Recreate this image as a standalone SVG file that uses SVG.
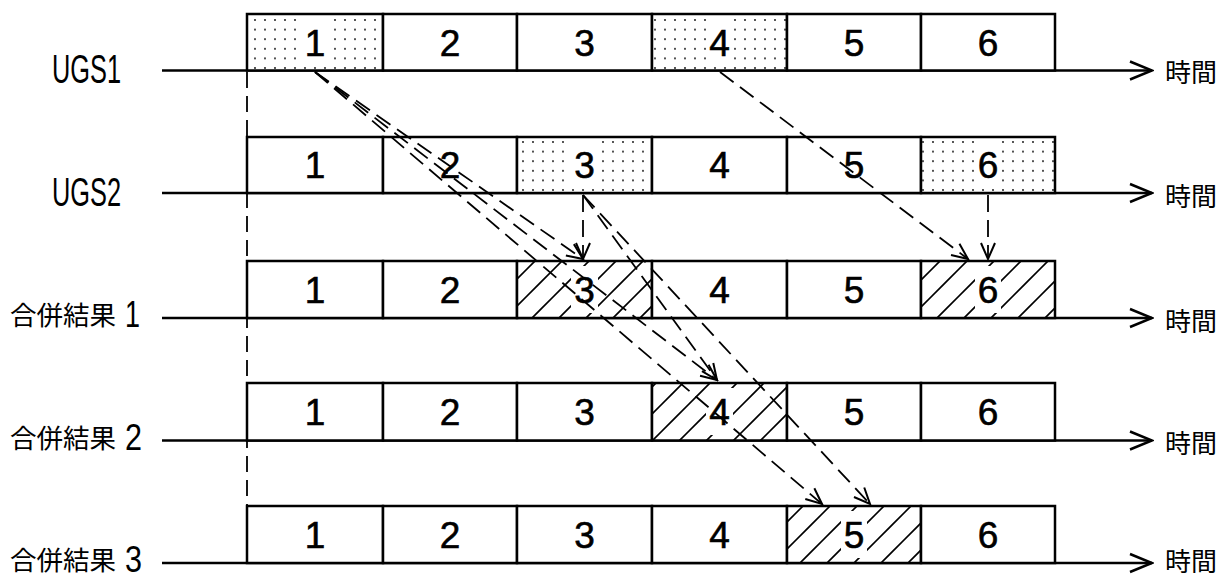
<svg xmlns="http://www.w3.org/2000/svg" width="1223" height="578" viewBox="0 0 1223 578">
<style>
.bx{fill:#fff;stroke:#000;stroke-width:2.5}
.clr{fill:#fff}
.num{font-family:"Liberation Sans",Arial,sans-serif;font-size:37px;text-anchor:middle;fill:#000;stroke:#000;stroke-width:0.6}
.ugs{font-family:"Liberation Sans",Arial,sans-serif;font-size:40px;fill:#000}
.cjk{font-family:"Noto Sans CJK JP","Noto Sans CJK SC",sans-serif;font-size:26.5px;fill:#000}
.dg{font-family:"Liberation Sans",Arial,sans-serif;font-size:37px}
.time{font-family:"Noto Sans CJK JP","Noto Sans CJK SC",sans-serif;font-size:26px;fill:#000}
.axis{stroke:#000;stroke-width:2.5;fill:none;marker-end:url(#axh)}
.dash{stroke:#000;stroke-width:1.8;stroke-dasharray:17 8;fill:none;marker-end:url(#ah)}
.vref{stroke:#000;stroke-width:1.8;stroke-dasharray:16 8;fill:none}
</style>
<defs>
<pattern id="dots1" patternUnits="userSpaceOnUse" x="0" y="5.6" width="10" height="9.6"><circle cx="5" cy="4.8" r="0.9" fill="#000"/></pattern>
<pattern id="dots2" patternUnits="userSpaceOnUse" x="8" y="2.8" width="10" height="9.6"><circle cx="5" cy="4.8" r="0.9" fill="#000"/></pattern>
<pattern id="hatch" patternUnits="userSpaceOnUse" x="0" y="0" width="27" height="27"><path d="M-1,14 L14,-1 M12,28 L28,12" stroke="#000" stroke-width="1.6" fill="none"/></pattern>
<marker id="ah" viewBox="-18 -9 20 18" refX="0" refY="0" markerWidth="20" markerHeight="18" markerUnits="userSpaceOnUse" orient="auto"><path d="M-16,-7 L0,0 L-16,7" fill="none" stroke="#000" stroke-width="2" stroke-dasharray="none"/></marker>
<marker id="axh" viewBox="-24 -11 26 22" refX="0" refY="0" markerWidth="26" markerHeight="22" markerUnits="userSpaceOnUse" orient="auto"><path d="M-22,-9 L0,0 L-22,9" fill="none" stroke="#000" stroke-width="2.5" stroke-dasharray="none"/></marker>
</defs>
<rect width="1223" height="578" fill="#fff"/>

<g id="ref-line"><path class="vref" d="M247,72 L247,563"/></g>

<g id="row-ugs1">
<text class="ugs" x="52" y="83" textLength="69" lengthAdjust="spacingAndGlyphs">UGS1</text>
<path class="axis" d="M162,70.5 L1152,70.5"/>
<text class="time" x="1165" y="82">時間</text>
<g id="ugs1-1"><rect class="bx" x="247" y="14" width="136" height="56.5"/><rect x="247" y="14" width="136" height="56.5" fill="url(#dots1)"/><rect class="clr" x="303" y="16" width="24" height="44"/><text class="num" x="315" y="55.5">1</text></g>
<g id="ugs1-2"><rect class="bx" x="383" y="14" width="134" height="56.5"/><text class="num" x="450" y="55.5">2</text></g>
<g id="ugs1-3"><rect class="bx" x="517" y="14" width="135" height="56.5"/><text class="num" x="584.5" y="55.5">3</text></g>
<g id="ugs1-4"><rect class="bx" x="652" y="14" width="135" height="56.5"/><rect x="652" y="14" width="135" height="56.5" fill="url(#dots1)"/><rect class="clr" x="707" y="16" width="25" height="44"/><text class="num" x="719.5" y="55.5">4</text></g>
<g id="ugs1-5"><rect class="bx" x="787" y="14" width="134" height="56.5"/><text class="num" x="854" y="55.5">5</text></g>
<g id="ugs1-6"><rect class="bx" x="921" y="14" width="134" height="56.5"/><text class="num" x="988" y="55.5">6</text></g>
</g>

<g id="row-ugs2">
<text class="ugs" x="52" y="206" textLength="69" lengthAdjust="spacingAndGlyphs">UGS2</text>
<path class="axis" d="M162,193 L1152,193"/>
<text class="time" x="1165" y="206">時間</text>
<g id="ugs2-1"><rect class="bx" x="247" y="137" width="136" height="56"/><text class="num" x="315" y="178">1</text></g>
<g id="ugs2-2"><rect class="bx" x="383" y="137" width="134" height="56"/><text class="num" x="450" y="178">2</text></g>
<g id="ugs2-3"><rect class="bx" x="517" y="137" width="135" height="56"/><rect x="517" y="137" width="135" height="56" fill="url(#dots2)"/><rect class="clr" x="572" y="139" width="25" height="45"/><text class="num" x="584.5" y="178">3</text></g>
<g id="ugs2-4"><rect class="bx" x="652" y="137" width="135" height="56"/><text class="num" x="719.5" y="178">4</text></g>
<g id="ugs2-5"><rect class="bx" x="787" y="137" width="134" height="56"/><text class="num" x="854" y="178">5</text></g>
<g id="ugs2-6"><rect class="bx" x="921" y="137" width="134" height="56"/><rect x="921" y="137" width="134" height="56" fill="url(#dots2)"/><rect class="clr" x="976" y="139" width="24" height="45"/><text class="num" x="988" y="178">6</text></g>
</g>

<g id="row-m1">
<text class="cjk" x="10" y="325">合併結果<tspan class="dg" x="125" y="327" textLength="15" lengthAdjust="spacingAndGlyphs">1</tspan></text>
<path class="axis" d="M162,318 L1152,318"/>
<text class="time" x="1165" y="331">時間</text>
<g id="m1-1"><rect class="bx" x="247" y="261" width="136" height="57"/><text class="num" x="315" y="302.5">1</text></g>
<g id="m1-2"><rect class="bx" x="383" y="261" width="134" height="57"/><text class="num" x="450" y="302.5">2</text></g>
<g id="m1-3"><rect class="bx" x="517" y="261" width="135" height="57"/><rect x="517" y="261" width="135" height="57" fill="url(#hatch)"/><rect class="clr" x="571" y="266" width="27" height="47"/><text class="num" x="584.5" y="302.5">3</text></g>
<g id="m1-4"><rect class="bx" x="652" y="261" width="135" height="57"/><text class="num" x="719.5" y="302.5">4</text></g>
<g id="m1-5"><rect class="bx" x="787" y="261" width="134" height="57"/><text class="num" x="854" y="302.5">5</text></g>
<g id="m1-6"><rect class="bx" x="921" y="261" width="134" height="57"/><rect x="921" y="261" width="134" height="57" fill="url(#hatch)"/><rect class="clr" x="975" y="266" width="26" height="47"/><text class="num" x="988" y="302.5">6</text></g>
</g>

<g id="row-m2">
<text class="cjk" x="10" y="448">合併結果<tspan class="dg" x="125" y="450" textLength="17" lengthAdjust="spacingAndGlyphs">2</tspan></text>
<path class="axis" d="M162,440.5 L1152,440.5"/>
<text class="time" x="1165" y="453">時間</text>
<g id="m2-1"><rect class="bx" x="247" y="383" width="136" height="57.5"/><text class="num" x="315" y="425">1</text></g>
<g id="m2-2"><rect class="bx" x="383" y="383" width="134" height="57.5"/><text class="num" x="450" y="425">2</text></g>
<g id="m2-3"><rect class="bx" x="517" y="383" width="135" height="57.5"/><text class="num" x="584.5" y="425">3</text></g>
<g id="m2-4"><rect class="bx" x="652" y="383" width="135" height="57.5"/><rect x="652" y="383" width="135" height="57.5" fill="url(#hatch)"/><rect class="clr" x="706" y="388" width="27" height="47"/><text class="num" x="719.5" y="425">4</text></g>
<g id="m2-5"><rect class="bx" x="787" y="383" width="134" height="57.5"/><text class="num" x="854" y="425">5</text></g>
<g id="m2-6"><rect class="bx" x="921" y="383" width="134" height="57.5"/><text class="num" x="988" y="425">6</text></g>
</g>

<g id="row-m3">
<text class="cjk" x="10" y="570">合併結果<tspan class="dg" x="125" y="572" textLength="17" lengthAdjust="spacingAndGlyphs">3</tspan></text>
<path class="axis" d="M162,563 L1152,563"/>
<text class="time" x="1165" y="570.5">時間</text>
<g id="m3-1"><rect class="bx" x="247" y="506" width="136" height="57"/><text class="num" x="315" y="547.5">1</text></g>
<g id="m3-2"><rect class="bx" x="383" y="506" width="134" height="57"/><text class="num" x="450" y="547.5">2</text></g>
<g id="m3-3"><rect class="bx" x="517" y="506" width="135" height="57"/><text class="num" x="584.5" y="547.5">3</text></g>
<g id="m3-4"><rect class="bx" x="652" y="506" width="135" height="57"/><text class="num" x="719.5" y="547.5">4</text></g>
<g id="m3-5"><rect class="bx" x="787" y="506" width="134" height="57"/><rect x="787" y="506" width="134" height="57" fill="url(#hatch)"/><rect class="clr" x="841" y="511" width="26" height="47"/><text class="num" x="854" y="547.5">5</text></g>
<g id="m3-6"><rect class="bx" x="921" y="506" width="134" height="57"/><text class="num" x="988" y="547.5">6</text></g>
</g>

<g id="connectors">
<path class="dash" d="M315,72 L583,259"/>
<path class="dash" d="M315,72 L717,380"/>
<path class="dash" d="M315,72 L822,504"/>
<path class="dash" d="M583,195 L583,259"/>
<path class="dash" d="M583,195 L717,380"/>
<path class="dash" d="M583,195 L870,504"/>
<path class="dash" d="M720,72 L968,259"/>
<path class="dash" d="M988,195 L988,259"/>
</g>
</svg>
